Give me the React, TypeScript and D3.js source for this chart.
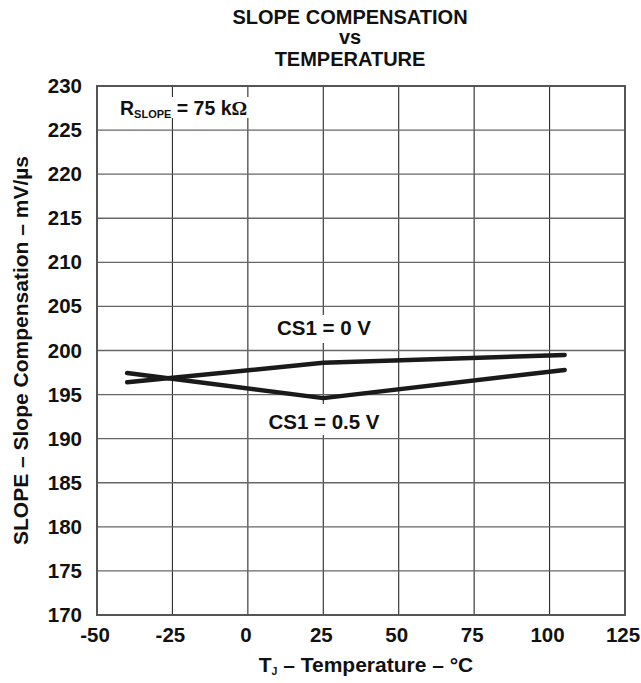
import React from "react";
import * as d3 from "d3";

const xTicks = [-50, -25, 0, 25, 50, 75, 100, 125];
const yTicks = [170, 175, 180, 185, 190, 195, 200, 205, 210, 215, 220, 225, 230];

const tempCS0 = [-40, 25, 105];
const slopeCS0 = [196.4, 198.6, 199.5];
const tempCS05 = [-40, 25, 105];
const slopeCS05 = [197.45, 194.6, 197.8];

const titleLines = ["SLOPE COMPENSATION", "vs", "TEMPERATURE"];

const W = 641;
const H = 683;
const M = { left: 97, right: 625, top: 86, bottom: 615 };
const FONT = "'Liberation Sans', Arial, Helvetica, sans-serif";

export default function App() {
  const x = d3.scaleLinear().domain([-50, 125]).range([M.left, M.right]);
  const y = d3.scaleLinear().domain([170, 230]).range([M.bottom, M.top]);
  const line = d3
    .line<[number, number]>()
    .x((d) => x(d[0]))
    .y((d) => y(d[1]));
  const s0: [number, number][] = tempCS0.map((t, i) => [t, slopeCS0[i]]);
  const s05: [number, number][] = tempCS05.map((t, i) => [t, slopeCS05[i]]);
  const titleY = [24, 44, 66];

  return (
    <svg
      width={W}
      height={H}
      style={{ position: "absolute", left: 0, top: 0, background: "#fff" }}
      fontFamily={FONT}
    >
      <rect x={0} y={0} width={W} height={H} fill="#fff" />
      {titleLines.map((t, i) => (
        <text
          key={t}
          x={350}
          y={titleY[i]}
          textAnchor="middle"
          fontWeight="bold"
          fontSize={20}
          fill="#111"
        >
          {t}
        </text>
      ))}
      {xTicks.slice(1, -1).map((t) => (
        <line key={"vx" + t} x1={x(t)} x2={x(t)} y1={M.top} y2={M.bottom} stroke="#2a2a2a" strokeWidth={1.1} />
      ))}
      {yTicks.slice(1, -1).map((t) => (
        <line key={"hy" + t} x1={M.left} x2={M.right} y1={y(t)} y2={y(t)} stroke="#666" strokeWidth={1.3} />
      ))}
      <rect
        x={M.left}
        y={M.top}
        width={M.right - M.left}
        height={M.bottom - M.top}
        fill="none"
        stroke="#555"
        strokeWidth={2}
      />
      {yTicks.map((t) => (
        <text
          key={"yl" + t}
          x={82}
          y={y(t) + 7}
          textAnchor="end"
          fontWeight="bold"
          fontSize={20.5}
          fill="#111"
        >
          {t}
        </text>
      ))}
      {xTicks.map((t) => (
        <text
          key={"xl" + t}
          x={x(t) - 2}
          y={642}
          textAnchor="middle"
          fontWeight="bold"
          fontSize={20.5}
          fill="#111"
        >
          {t}
        </text>
      ))}
      <text x={366} y={672} textAnchor="middle" fontWeight="bold" fontSize={21} fill="#111">
        T<tspan fontSize={10.5} dy={3}>J</tspan>
        <tspan dy={-3}> – Temperature – °C</tspan>
      </text>
      <text
        transform={`translate(28, ${(M.top + M.bottom) / 2}) rotate(-90)`}
        textAnchor="middle"
        fontWeight="bold"
        fontSize={21}
        fill="#111"
      >
        SLOPE – Slope Compensation – mV/µs
      </text>
      <rect x={115} y={97} width={142} height={21} fill="#fff" />
      <text x={120} y={115} fontWeight="bold" fontSize={19.5} fill="#111">
        R<tspan fontSize={11} dy={3}>SLOPE</tspan>
        <tspan dy={-3}> = 75 k</tspan>
        <tspan fontFamily="'Liberation Serif', 'DejaVu Serif', serif">Ω</tspan>
      </text>
      <rect x={268} y={315} width={112} height={28} fill="#fff" />
      <text x={324} y={335} textAnchor="middle" fontWeight="bold" fontSize={20.5} fill="#111">
        CS1 = 0 V
      </text>
      <rect x={262} y={404} width={124} height={31} fill="#fff" />
      <text x={324} y={428.5} textAnchor="middle" fontWeight="bold" fontSize={20.5} fill="#111">
        CS1 = 0.5 V
      </text>
      <path d={line(s0) ?? ""} fill="none" stroke="#1a1a1a" strokeWidth={4.5} strokeLinecap="round" strokeLinejoin="round" />
      <path d={line(s05) ?? ""} fill="none" stroke="#1a1a1a" strokeWidth={4.5} strokeLinecap="round" strokeLinejoin="round" />
    </svg>
  );
}
